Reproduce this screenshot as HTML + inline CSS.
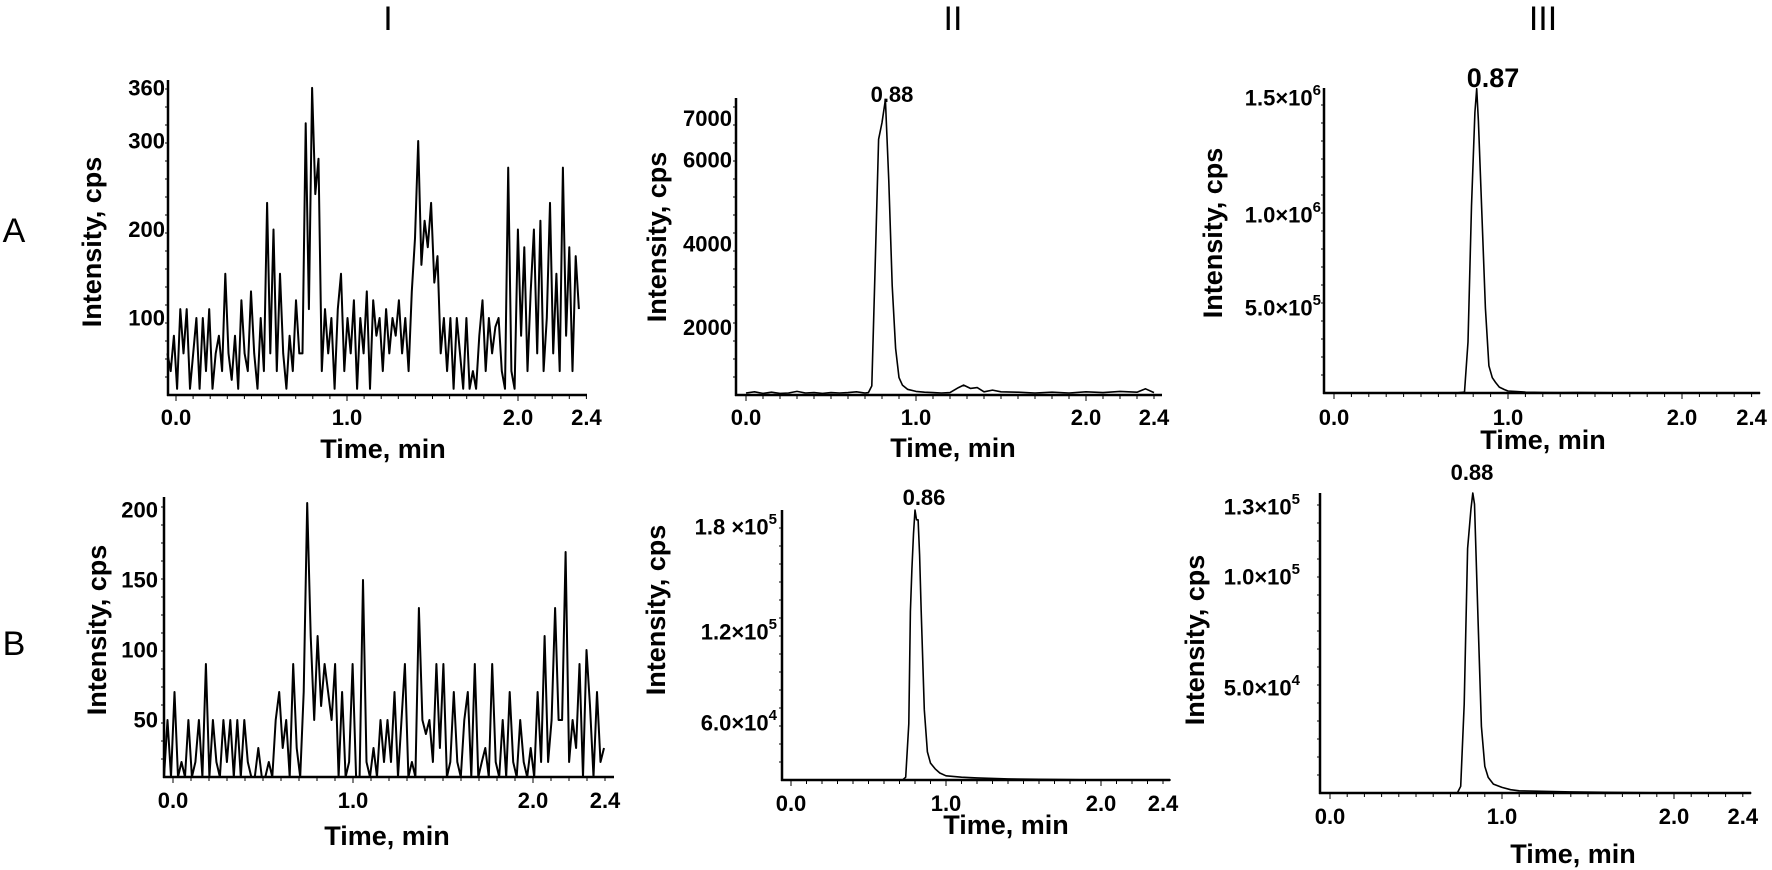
<!DOCTYPE html>
<html>
<head>
<meta charset="utf-8">
<style>
  html,body{margin:0;padding:0;background:#fff;}
  svg{display:block;}
  text{font-family:"Liberation Sans", Arial, sans-serif;fill:#000;}
  .tick{font-size:22px;font-weight:bold;}
  .ttl{font-size:27px;font-weight:bold;}
  .lbl{font-size:34px;font-weight:normal;}
  .pk{font-size:21px;font-weight:bold;}
</style>
</head>
<body>
<svg id="fig" width="1772" height="870" viewBox="0 0 1772 870" xmlns="http://www.w3.org/2000/svg">
  <rect width="1772" height="870" fill="#fff"/>
  <text class="lbl" x="388" y="30" text-anchor="middle">I</text>
  <text class="lbl" x="953" y="30" text-anchor="middle">II</text>
  <text class="lbl" x="1543" y="30" text-anchor="middle">III</text>
  <text class="lbl" x="14" y="242" text-anchor="middle">A</text>
  <text class="lbl" x="14" y="655" text-anchor="middle">B</text>
</svg>
<script>
// ---------- data ----------
const aiStart = -0.05, aiStep = 0.0188;
const aiValues = [60,40,80,20,110,60,110,20,60,100,20,100,40,110,20,60,80,40,150,60,30,80,20,120,60,40,130,60,20,100,40,
 230,60,200,40,150,60,20,80,40,120,60,60,320,110,360,240,280,
 40,110,60,100,20,110,150,40,100,60,120,20,
 100,60,130,20,120,80,100,40,110,60,100,80,120,60,100,
 40,130,190,300,160,210,180,230,140,
 170,60,100,40,100,20,100,60,20,100,20,40,20,80,120,40,100,60,90,100,40,20,
 270,40,20,200,
 80,180,40,130,200,60,210,40,100,230,60,150,40,270,80,180,40,170,110];

const biStart = -0.05, biStep = 0.0194;
const biValues = [0,50,0,70,0,20,0,50,0,20,50,0,90,0,50,20,0,50,20,50,0,
 50,0,50,20,0,0,30,0,0,20,0,50,70,30,50,0,90,30,
 0,70,205,110,50,110,60,90,70,50,90,0,70,
 0,20,90,0,0,150,20,0,30,0,50,
 20,50,20,70,0,50,90,0,20,0,130,50,
 40,50,20,90,30,90,0,20,70,20,0,50,70,0,90,0,20,30,0,
 90,20,0,50,0,70,20,0,50,20,0,30,0,70,20,
 110,20,50,130,50,50,170,20,
 50,30,90,0,100,60,0,70,20,30];

const aiiTimes = [0,0.05,0.1,0.15,0.2,0.25,0.3,0.35,0.4,0.45,0.5,0.55,0.6,0.65,0.7,0.72,0.74,0.76,0.78,0.8,0.82,0.84,0.86,0.88,0.9,0.92,0.95,1.0,1.05,1.1,1.15,1.2,1.25,1.28,1.32,1.36,1.4,1.45,1.5,1.6,1.7,1.8,1.9,2.0,2.1,2.2,2.3,2.35,2.4];
const aiiValues = [430,460,420,450,420,430,470,430,440,420,440,430,440,460,430,440,600,3500,6500,6900,7450,5500,3000,1500,800,620,520,470,450,440,430,440,560,620,540,560,460,500,460,450,430,450,430,460,440,470,450,530,440];

const aiiiTimes = [0,0.2,0.4,0.6,0.7,0.75,0.77,0.79,0.81,0.82,0.83,0.85,0.87,0.89,0.91,0.93,0.95,0.98,1.0,1.05,1.1,1.2,1.3,1.4,1.6,1.8,2.0,2.2,2.45];
const aiiiValues = [0,0,0,0,0,5000,300000,1100000,1650000,1790000,1600000,1050000,500000,160000,90000,60000,35000,20000,12000,8000,5000,3000,2000,3000,1000,1000,0,0,0];

const biiTimes = [0,0.3,0.6,0.72,0.74,0.76,0.77,0.78,0.79,0.8,0.81,0.82,0.83,0.84,0.86,0.88,0.9,0.93,0.96,1.0,1.1,1.2,1.4,1.6,2.0,2.45];
const biiValues = [0,0,0,0,2000,40000,120000,150000,175000,192000,185000,185000,160000,120000,50000,20000,12000,8000,5000,3000,2000,1500,800,500,0,0];

const biiiTimes = [0,0.3,0.6,0.74,0.76,0.78,0.8,0.82,0.83,0.84,0.86,0.88,0.9,0.92,0.95,1.0,1.05,1.1,1.2,1.4,1.6,2.0,2.45];
const biiiValues = [0,0,0,0,3000,40000,110000,128000,135000,130000,80000,30000,12000,7000,4000,2500,1500,1000,800,500,300,0,0];

const xTickLabels = ["0.0","1.0","2.0","2.4"];
const xTickValues = [0,1,2,2.4];
const aiYTicks = [100,200,300,360];
const biYTicks = [50,100,150,200];

// ---------- rendering ----------
const NS = "http://www.w3.org/2000/svg";
const svg = document.getElementById("fig");
function mk(tag, attrs, parent){
  const e = document.createElementNS(NS, tag);
  for (const k in attrs) e.setAttribute(k, attrs[k]);
  (parent||svg).appendChild(e);
  return e;
}

function drawPanel(p){
  const g = mk("g", {});
  
  
  const xs = t => p.x0 + t * p.xk;
  const ys = v => Math.min(p.bottom, p.y0 - (v - p.v0) * p.yk);
  const ya = mk("line", {x1:p.left, y1:p.top, x2:p.left, y2:p.bottom+1, stroke:"#000", "stroke-width":2.5}, g);
  
  
  const xa = mk("line", {x1:p.left-1, y1:p.bottom, x2:p.right, y2:p.bottom, stroke:"#000", "stroke-width":2.5}, g);
  
  
  for (let i=0;i<=24;i++){
    const t=i/10, x=xs(t);
    if (x < p.left || x > p.right) continue;
    mk("line",{x1:x,y1:p.bottom,x2:x,y2:p.bottom+(i%10===0?6:4),stroke:"#000","stroke-width":1},g);
  }
  for (let y=p.bottom-18; y>p.top+4; y-=18){
    mk("line",{x1:p.left,y1:y,x2:p.left-3,y2:y,stroke:"#000","stroke-width":1},g);
  }
  xTickValues.forEach((t,i)=>{
    const tx = mk("text",{x:xs(t), y:p.xlabY, "text-anchor":"middle", class:"tick"}, g);
    tx.textContent = xTickLabels[i];
    
    
  });
  p.yTicks.forEach(tk=>{
    const yy = tk.y !== undefined ? tk.y : ys(tk.v);
    const tx = mk("text",{x:p.labR, y:yy, "text-anchor":"end", "dominant-baseline":"central", class:"tick"}, g);
    
    
    if (tk.exp){
      tx.appendChild(document.createTextNode(tk.mant + "\u00D710"));
      const s = mk("tspan",{"font-size":"15", dy:"-8"}, tx);
      s.textContent = tk.exp;
    } else {
      tx.textContent = tk.text;
    }
  });
  let d = "";
  p.times.forEach((t,i)=>{ d += (i?"L":"M") + xs(t).toFixed(1) + "," + ys(p.values[i]).toFixed(1); });
  const path = mk("path",{d:d, fill:"none", stroke:"#000", "stroke-width":p.sw, "stroke-linejoin":"round"}, g);
  
  
  const xt = mk("text",{x:p.xtX, y:p.xtY, "text-anchor":"middle", class:"ttl"}, g);
  xt.textContent = "Time, min";
  
  
  const yt = mk("text",{x:0, y:0, "text-anchor":"middle", "dominant-baseline":"central", class:"ttl", transform:`translate(${p.ytX},${p.ytY}) rotate(-90)`}, g);
  yt.textContent = "Intensity, cps";
  
  
  if (p.peak){
    const pk = mk("text",{x:p.peak.x, y:p.peak.y, "text-anchor":"middle", class:"pk"}, g);
    pk.style.fontSize = p.peak.fs + "px";
    pk.textContent = p.peak.text;
    
    
  }
}

const aiTimes = aiValues.map((v,i)=>aiStart + i*aiStep);
const biTimes = biValues.map((v,i)=>biStart + i*biStep);

drawPanel({name:"panel-a-i", left:168, right:587, top:80, bottom:395, x0:176, xk:171,
  y0:406.5, v0:0, yk:0.885, times:aiTimes, values:aiValues, sw:2,
  xlabY:425, labR:165, yTicks:aiYTicks.map(v=>({v:v,text:String(v)})),
  xtX:383, xtY:458, ytX:92, ytY:242});

drawPanel({name:"panel-a-ii", left:736, right:1162, top:98, bottom:395, x0:746, xk:170,
  y0:411, v0:0, yk:0.0418, times:aiiTimes, values:aiiValues, sw:1.6,
  xlabY:425, labR:732, yTicks:[{v:2000,text:"2000"},{v:4000,text:"4000"},{v:6000,text:"6000"},{v:7000,text:"7000"}],
  xtX:953, xtY:457, ytX:657, ytY:237, peak:{x:892,y:102,text:"0.88",fs:22}});

drawPanel({name:"panel-a-iii", left:1324, right:1760, top:88, bottom:393, x0:1334, xk:174,
  y0:393, v0:0, yk:0.00017, times:aiiiTimes, values:aiiiValues, sw:1.6,
  xlabY:425, labR:1321, yTicks:[{y:98,mant:"1.5",exp:"6"},{y:215,mant:"1.0",exp:"6"},{y:308,mant:"5.0",exp:"5"}],
  xtX:1543, xtY:449, ytX:1213, ytY:233, peak:{x:1493,y:87,text:"0.87",fs:27}});

drawPanel({name:"panel-b-i", left:164, right:614, top:497, bottom:777, x0:173, xk:180,
  y0:790, v0:0, yk:1.4, times:biTimes, values:biValues, sw:2,
  xlabY:808, labR:158, yTicks:biYTicks.map(v=>({v:v,text:String(v)})),
  xtX:387, xtY:845, ytX:97, ytY:630});

drawPanel({name:"panel-b-ii", left:782, right:1170, top:510, bottom:780, x0:791, xk:155,
  y0:780, v0:0, yk:270/192000, times:biiTimes, values:biiValues, sw:1.6,
  xlabY:811, labR:777, yTicks:[{y:527,mant:"1.8 ",exp:"5"},{y:632,mant:"1.2",exp:"5"},{y:723,mant:"6.0",exp:"4"}],
  xtX:1006, xtY:834, ytX:656, ytY:610, peak:{x:924,y:505,text:"0.86",fs:22}});

drawPanel({name:"panel-b-iii", left:1320, right:1751, top:493, bottom:793, x0:1330, xk:172,
  y0:793, v0:0, yk:300/135000, times:biiiTimes, values:biiiValues, sw:1.6,
  xlabY:824, labR:1300, yTicks:[{y:507,mant:"1.3",exp:"5"},{y:577,mant:"1.0",exp:"5"},{y:688,mant:"5.0",exp:"4"}],
  xtX:1573, xtY:863, ytX:1195, ytY:640, peak:{x:1472,y:480,text:"0.88",fs:22}});
</script>
</body>
</html>
